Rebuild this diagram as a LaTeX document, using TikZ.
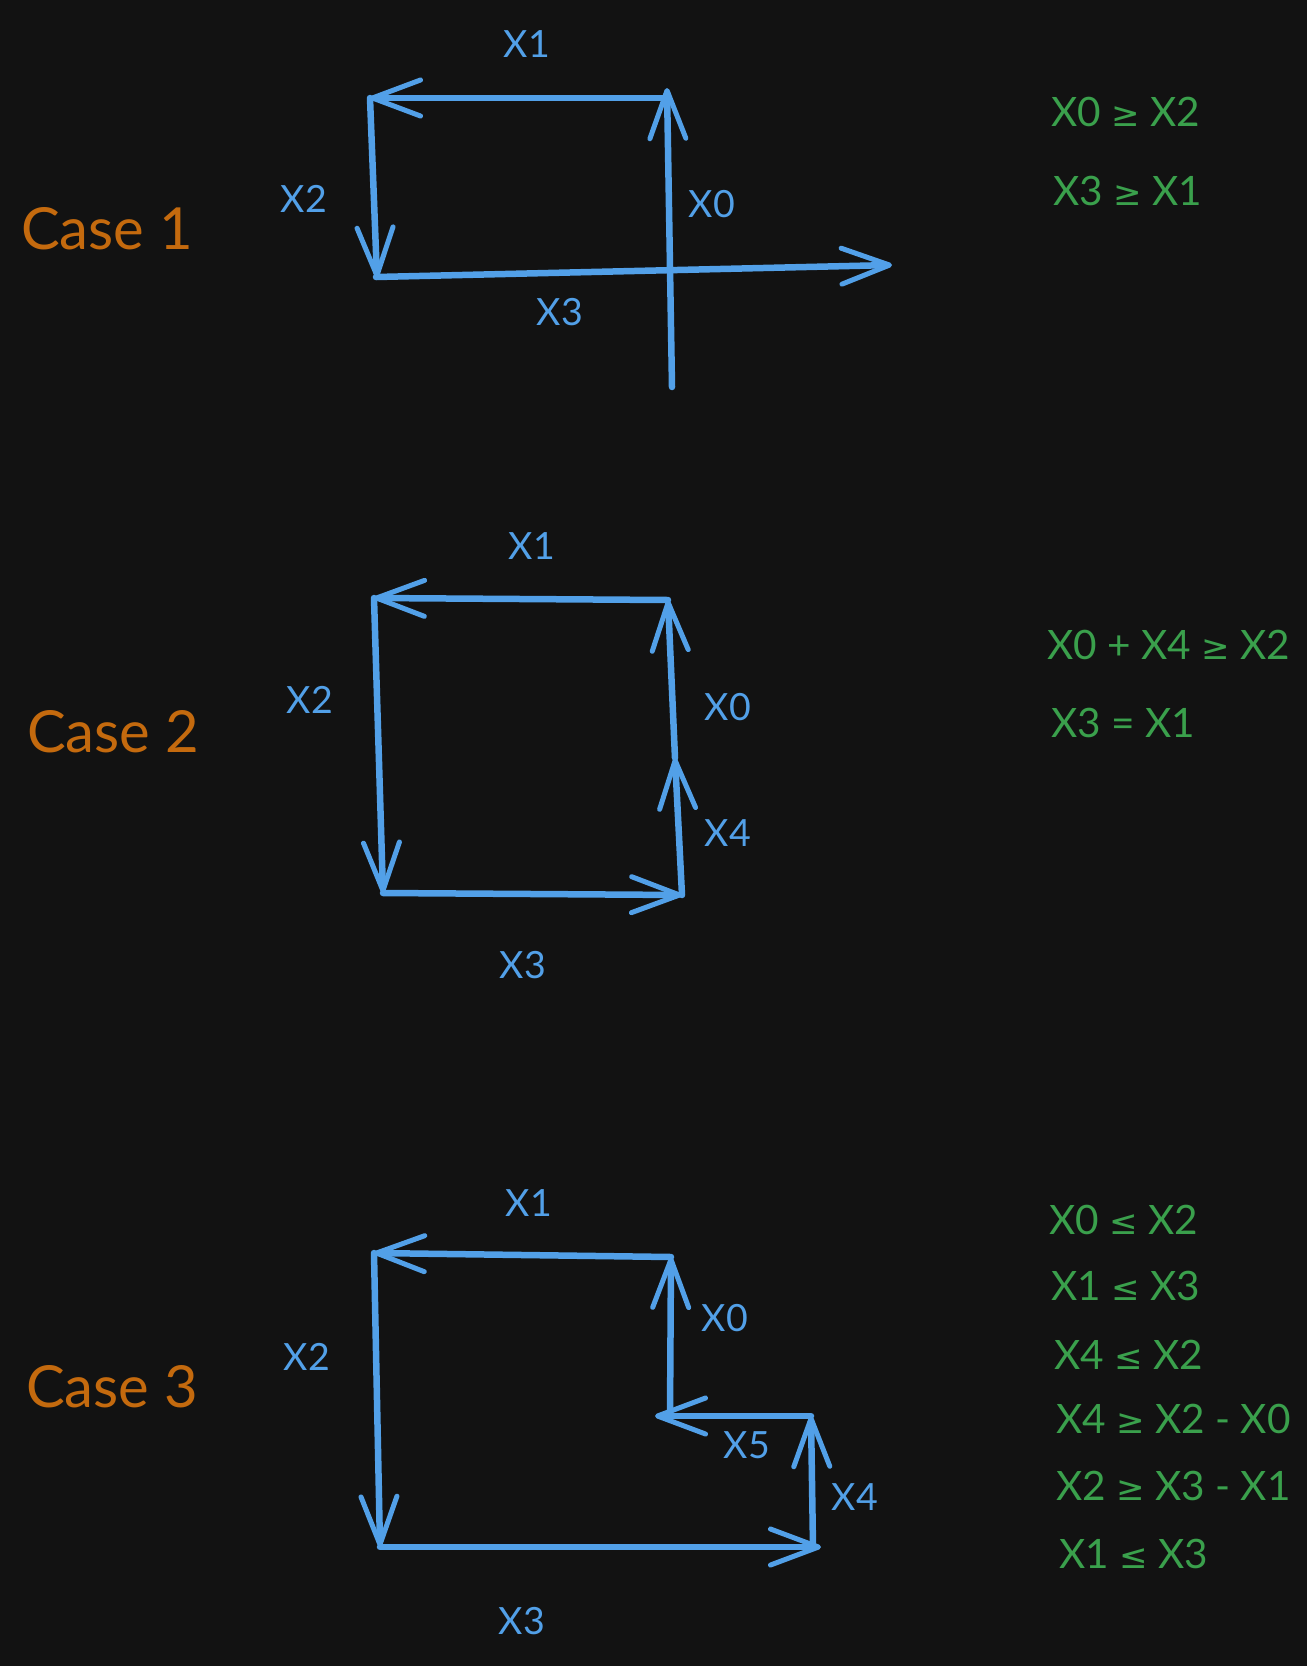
\documentclass[tikz,border=0pt]{standalone}
\usepackage{fontspec}
\setmainfont{Lato}
\newfontfamily\symf[Scale=0.84]{DejaVu Sans}
\newcommand{\mygeq}{{\symf ≥}}
\newcommand{\myleq}{{\symf ≤}}
\usetikzlibrary{arrows.meta}
\definecolor{bgc}{RGB}{18,18,18}
\definecolor{lblue}{RGB}{82,160,232}
\definecolor{lgreen}{RGB}{58,160,76}
\definecolor{lorange}{RGB}{196,106,14}
\tikzset{
  edge/.style={draw=lblue,line width=6.5pt,line cap=round,line join=round},
  arr/.style={edge,-{Straight Barb[length=48pt,width=36pt,line width=5pt,round]}},
  lbl/.style={text=lblue,font=\fontsize{37.5}{40}\selectfont,anchor=base,inner sep=0pt},
  cond/.style={text=lgreen,font=\fontsize{40.5}{44}\selectfont,anchor=base west,inner sep=0pt},
  casel/.style={text=lorange,font=\fontsize{58}{62}\selectfont,anchor=base west,inner sep=0pt}
}
\begin{document}
\begin{tikzpicture}[x=1pt,y=-1pt]
\fill[bgc] (0,0) rectangle (1307,1666);
\useasboundingbox (0,0) rectangle (1307,1666);
% ---------- Case 1
\coordinate (a1tr) at (667,98);
\coordinate (a1tl) at (370,98);
\coordinate (a1bl) at (377,278);
\coordinate (a1bs) at (376,277);
\coordinate (a1r) at (892,265);
\coordinate (a1bot) at (672,387);
\coordinate (a1top) at (667,88);
\draw[arr] (a1tr) -- (a1tl);
\draw[arr] (a1tl) -- (a1bl);
\draw[arr] (a1bs) -- (a1r);
\draw[arr] (a1bot) -- (a1top);
\node[casel] (case1) at (21,249) {Case 1};
\node[lbl] (a1x1) at (527,57) {X1};
\node[lbl] (a1x2) at (304,212) {X2};
\node[lbl] (a1x0) at (712,217) {X0};
\node[lbl] (a1x3) at (560,325) {X3};
\node[cond] (a1c1) at (1051,126) {X0 \mygeq{} X2};
\node[cond] (a1c2) at (1053,205) {X3 \mygeq{} X1};
% ---------- Case 2
\coordinate (a2tr) at (668,600);
\coordinate (a2tl) at (374,598);
\coordinate (a2bl) at (383,893);
\coordinate (a2br) at (682,895);
\coordinate (a2mid) at (675,758);
\draw[arr] (a2tr) -- (a2tl);
\draw[arr] (a2tl) -- (a2bl);
\draw[arr] (a2bl) -- (a2br);
\draw[arr] (a2br) -- (a2mid);
\draw[arr] (a2mid) -- (a2tr);
\node[casel] (case2) at (27,752) {Case 2};
\node[lbl] (a2x1) at (532,559) {X1};
\node[lbl] (a2x2) at (310,713) {X2};
\node[lbl] (a2x0) at (728,720) {X0};
\node[lbl] (a2x4) at (728,846) {X4};
\node[lbl] (a2x3) at (523,978) {X3};
\node[cond] (a2c1) at (1047,659) {X0 + X4 \mygeq{} X2};
\node[cond] (a2c2) at (1051,737) {X3 = X1};
% ---------- Case 3
\coordinate (a3tr) at (671,1257);
\coordinate (a3tl) at (374,1253);
\coordinate (a3bl) at (380,1547);
\coordinate (a3br) at (821,1547);
\coordinate (a3bs) at (813,1547);
\coordinate (a3r) at (811,1416);
\coordinate (a3in) at (670,1416);
\coordinate (a3tip) at (655,1416);
\draw[arr] (a3tr) -- (a3tl);
\draw[arr] (a3tl) -- (a3bl);
\draw[arr] (a3bl) -- (a3br);
\draw[arr] (a3bs) -- (a3r);
\draw[arr] (a3r) -- (a3tip);
\draw[arr] (a3in) -- (a3tr);
\node[casel] (case3) at (26,1407) {Case 3};
\node[lbl] (a3x1) at (529,1216) {X1};
\node[lbl] (a3x2) at (307,1370) {X2};
\node[lbl] (a3x0) at (725,1331) {X0};
\node[lbl] (a3x5) at (747,1458) {X5};
\node[lbl] (a3x4) at (855,1510) {X4};
\node[lbl] (a3x3) at (522,1634) {X3};
\node[cond] (a3c1) at (1049,1234) {X0 \myleq{} X2};
\node[cond] (a3c2) at (1051,1300) {X1 \myleq{} X3};
\node[cond] (a3c3) at (1054,1369) {X4 \myleq{} X2};
\node[cond] (a3c4) at (1056,1433) {X4 \mygeq{} X2 - X0};
\node[cond] (a3c5) at (1056,1500) {X2 \mygeq{} X3 - X1};
\node[cond] (a3c6) at (1059,1568) {X1 \myleq{} X3};
\end{tikzpicture}
\end{document}
